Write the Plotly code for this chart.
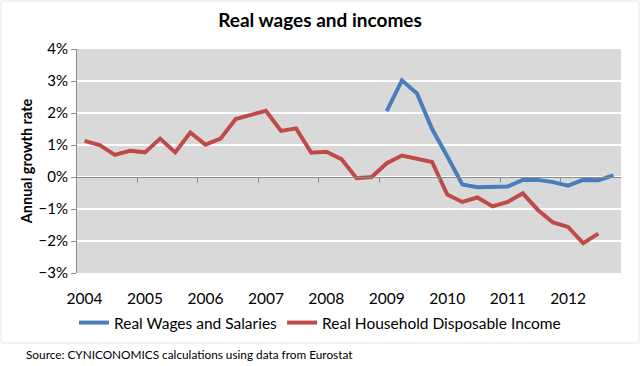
import plotly.graph_objects as go

quarters = [f"{y}Q{q}" for y in range(2004, 2013) for q in range(1, 5)]
year_labels = ["2004", "2005", "2006", "2007", "2008", "2009", "2010", "2011", "2012"]

income = [1.13, 1.00, 0.69, 0.82, 0.77, 1.20, 0.77, 1.39, 1.01, 1.20, 1.81, 1.93,
          2.07, 1.44, 1.52, 0.76, 0.79, 0.56, -0.04, 0.00, 0.43, 0.67, 0.56, 0.47,
          -0.55, -0.78, -0.64, -0.92, -0.78, -0.51, -1.03, -1.42, -1.56, -2.07, -1.77, None]

wages = [None] * 20 + [2.06, 3.02, 2.61, 1.50, 0.65, -0.23, -0.32, -0.32, -0.30, -0.09,
                       -0.09, -0.16, -0.27, -0.09, -0.10, 0.05]

xs = list(range(len(quarters)))
FONT = "Lato"

L, R, T, B = 77, 621, 49, 273
W, H = 640, 366
PW, PH = R - L, B - T

fig = go.Figure()
fig.add_trace(go.Scatter(x=xs, y=wages, mode="lines", name="Real Wages and Salaries",
                         line=dict(color="#4a7ebb", width=4), connectgaps=False))
fig.add_trace(go.Scatter(x=xs, y=income, mode="lines", name="Real Household Disposable Income",
                         line=dict(color="#be4b48", width=4), connectgaps=False))
# invisible trace for the secondary x axis (zero line with tick marks)
fig.add_trace(go.Scatter(x=xs, y=[None] * len(xs), xaxis="x2", showlegend=False,
                         hoverinfo="skip"))

label_pos = [xs[i] for i in range(0, len(xs), 4)]
tick_pos = [i - 0.5 for i in range(4, len(xs), 4)]

fig.update_layout(
    width=W, height=H,
    margin=dict(l=L, r=W - R, t=T, b=H - B, autoexpand=False),
    paper_bgcolor="white",
    plot_bgcolor="#d9d9d9",
    font=dict(family=FONT, size=14, color="black"),
    title=dict(text="<b>Real wages and incomes</b>", x=0.5, xref="container", xanchor="center",
               y=1 - 20 / H, yref="container", yanchor="middle",
               font=dict(family=FONT, size=19, color="black")),
    xaxis=dict(range=[-0.5, 35.5], tickvals=label_pos, ticktext=year_labels,
               showgrid=False, zeroline=False, showline=False, ticks="outside",
               ticklen=11, tickcolor="rgba(0,0,0,0)", automargin=False,
               tickfont=dict(size=15.5), fixedrange=True),
    xaxis2=dict(range=[-0.5, 35.5], overlaying="x", anchor="free", position=3 / 7,
                tickvals=tick_pos, ticks="outside", ticklen=5, tickcolor="#8c8c8c",
                showticklabels=False, showgrid=False, zeroline=False, automargin=False,
                showline=True, linecolor="#8c8c8c", linewidth=1),
    yaxis=dict(range=[-3, 4], dtick=1, ticksuffix="%", showgrid=True, gridcolor="white",
               gridwidth=1.5, zeroline=False, showline=True, linecolor="#8c8c8c",
               ticks="outside", ticklen=5, tickcolor="#8c8c8c", automargin=False,
               title=dict(text="<b>Annual growth rate</b>", font=dict(size=14.5), standoff=2),
               tickfont=dict(size=15)),
    legend=dict(orientation="h", xref="container", x=0.5, xanchor="center",
                yref="container", y=1 - 323 / H, yanchor="middle",
                font=dict(size=15.5), bgcolor="rgba(0,0,0,0)", itemwidth=30,
                tracegroupgap=0),
    annotations=[dict(text="Source: CYNICONOMICS calculations using data from Eurostat",
                      xref="paper", yref="paper", x=(24 - L) / PW, y=-(354 - B) / PH,
                      xanchor="left", yanchor="middle", showarrow=False,
                      font=dict(size=11.8, color="black"))],
    shapes=[dict(type="rect", xref="paper", yref="paper",
                 x0=(1 - L) / PW, x1=(639 - L) / PW,
                 y0=-(343 - B) / PH, y1=(B - 1) / PH,
                 line=dict(color="#e6e6e6", width=1), fillcolor="rgba(0,0,0,0)", layer="below")],
)

fig.write_html("out.html",
               config={"displayModeBar": False},
               post_script="document.body.style.margin='0';document.body.style.overflow='hidden';")
